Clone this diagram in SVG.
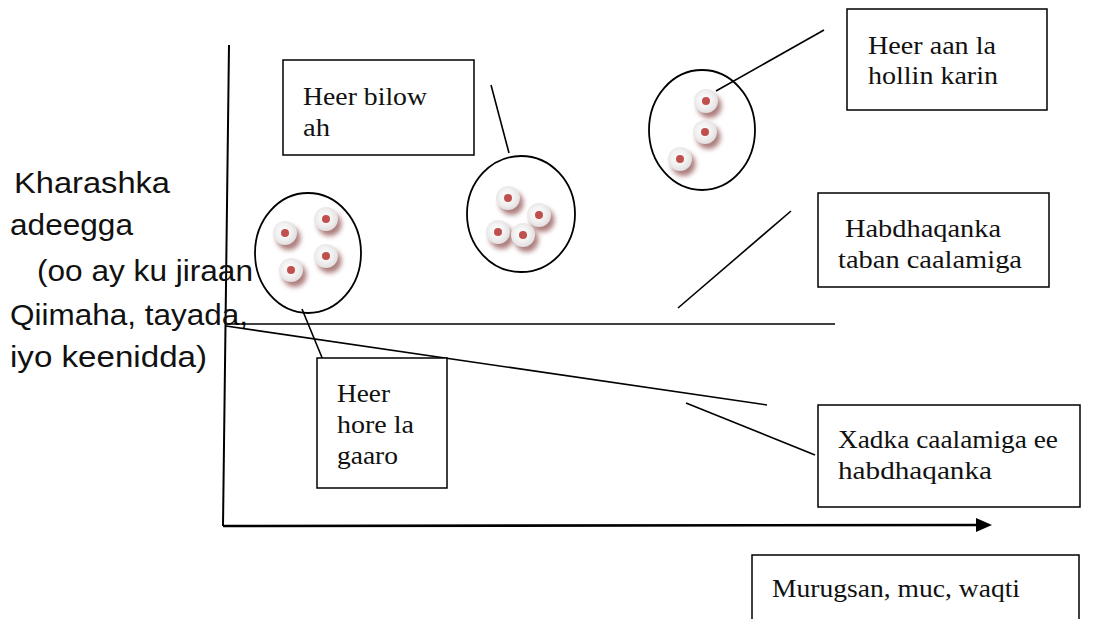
<svg xmlns="http://www.w3.org/2000/svg" width="1101" height="619" viewBox="0 0 1101 619">
<style>
.box{fill:#fff;stroke:#000;stroke-width:1.5}
.bt{font-family:"Liberation Serif","Times New Roman",serif;font-size:26px;fill:#111}
.lt{font-family:"Liberation Sans",Arial,sans-serif;font-size:30px;fill:#111}
.ln{stroke:#000;stroke-width:1.6;fill:none}
.ell{fill:#fff;stroke:#000;stroke-width:1.8}
.dot{fill:#c0504d}
</style>
<defs>
<radialGradient id="disc" cx="0.45" cy="0.45" r="0.55">
<stop offset="0" stop-color="#ffffff"/>
<stop offset="0.55" stop-color="#f3f2f2"/>
<stop offset="1" stop-color="#e2dfdf"/>
</radialGradient>
<filter id="blur" x="-60%" y="-60%" width="220%" height="220%">
<feGaussianBlur stdDeviation="2.4"/>
</filter>
<g id="cell">
<circle cx="3.5" cy="5" r="12" fill="#8a4646" opacity="0.7" filter="url(#blur)"/>
<circle cx="0" cy="0" r="12" fill="url(#disc)"/>
<circle cx="0" cy="0" r="4" class="dot"/>
</g>
<marker id="arr" markerWidth="16" markerHeight="14" refX="0" refY="7" orient="auto" markerUnits="userSpaceOnUse">
<path d="M0,0 L16,7 L0,14 Z" fill="#000"/>
</marker>
</defs>

<g id="axes">
<line x1="229" y1="45" x2="223" y2="526" stroke="#000" stroke-width="2"/>
<line x1="223" y1="526" x2="976" y2="525" stroke="#000" stroke-width="2.6" marker-end="url(#arr)"/>
</g>

<g id="y-label">
<text class="lt" x="14" y="193" textLength="156" lengthAdjust="spacingAndGlyphs"> Kharashka</text>
<text class="lt" x="10" y="235" textLength="123" lengthAdjust="spacingAndGlyphs">adeegga</text>
<text class="lt" x="37" y="281" textLength="216" lengthAdjust="spacingAndGlyphs">(oo ay ku jiraan</text>
<text class="lt" x="10" y="325" textLength="238" lengthAdjust="spacingAndGlyphs">Qiimaha, tayada,</text>
<text class="lt" x="10" y="367" textLength="197" lengthAdjust="spacingAndGlyphs">iyo keenidda)</text>
</g>

<g id="cluster-left">
<ellipse class="ell" cx="308" cy="253" rx="53" ry="60"/>
<use href="#cell" x="285" y="233"/>
<use href="#cell" x="326" y="219"/>
<use href="#cell" x="326" y="256"/>
<use href="#cell" x="291" y="270"/>
</g>
<g id="cluster-middle">
<ellipse class="ell" cx="521" cy="214" rx="54" ry="58"/>
<use href="#cell" x="508" y="198"/>
<use href="#cell" x="539" y="215"/>
<use href="#cell" x="498" y="232"/>
<use href="#cell" x="523" y="235"/>
</g>
<g id="cluster-right">
<ellipse class="ell" cx="702" cy="130" rx="53" ry="60"/>
<use href="#cell" x="706" y="101"/>
<use href="#cell" x="705" y="132"/>
<use href="#cell" x="680" y="159"/>
</g>

<g id="connectors">
<line class="ln" x1="229" y1="324" x2="835" y2="324"/>
<line class="ln" x1="226" y1="326" x2="767" y2="405"/>
<line class="ln" x1="686" y1="403" x2="815" y2="455"/>
<line class="ln" x1="678" y1="308" x2="791" y2="211"/>
<line class="ln" x1="716" y1="91" x2="824" y2="30"/>
<line class="ln" x1="491" y1="85" x2="509" y2="153"/>
<line class="ln" x1="302" y1="309" x2="323" y2="360"/>
</g>

<g id="box-bilow">
<rect class="box" x="283" y="60" width="191" height="95"/>
<text class="bt" x="303" y="105" textLength="124" lengthAdjust="spacingAndGlyphs">Heer bilow</text>
<text class="bt" x="303" y="136" textLength="27" lengthAdjust="spacingAndGlyphs">ah</text>
</g>
<g id="box-hollin">
<rect class="box" x="847" y="9" width="200" height="101"/>
<text class="bt" x="868" y="54" textLength="128" lengthAdjust="spacingAndGlyphs">Heer aan la</text>
<text class="bt" x="868" y="84" textLength="130" lengthAdjust="spacingAndGlyphs">hollin karin</text>
</g>
<g id="box-taban">
<rect class="box" x="818" y="193" width="231" height="94"/>
<text class="bt" x="845" y="237" textLength="156" lengthAdjust="spacingAndGlyphs">Habdhaqanka</text>
<text class="bt" x="838" y="268" textLength="184" lengthAdjust="spacingAndGlyphs">taban caalamiga</text>
</g>
<g id="box-hore">
<rect class="box" x="317" y="358" width="130" height="130"/>
<text class="bt" x="337" y="402" textLength="53" lengthAdjust="spacingAndGlyphs">Heer</text>
<text class="bt" x="337" y="433" textLength="77" lengthAdjust="spacingAndGlyphs">hore la</text>
<text class="bt" x="337" y="464" textLength="61" lengthAdjust="spacingAndGlyphs">gaaro</text>
</g>
<g id="box-xadka">
<rect class="box" x="818" y="405" width="262" height="102"/>
<text class="bt" x="838" y="448" textLength="220" lengthAdjust="spacingAndGlyphs">Xadka caalamiga ee</text>
<text class="bt" x="838" y="479" textLength="154" lengthAdjust="spacingAndGlyphs">habdhaqanka</text>
</g>
<g id="box-xaxis">
<rect class="box" x="752" y="555" width="327" height="80"/>
<text class="bt" x="772" y="597" textLength="248" lengthAdjust="spacingAndGlyphs">Murugsan, muc, waqti</text>
</g>
</svg>
